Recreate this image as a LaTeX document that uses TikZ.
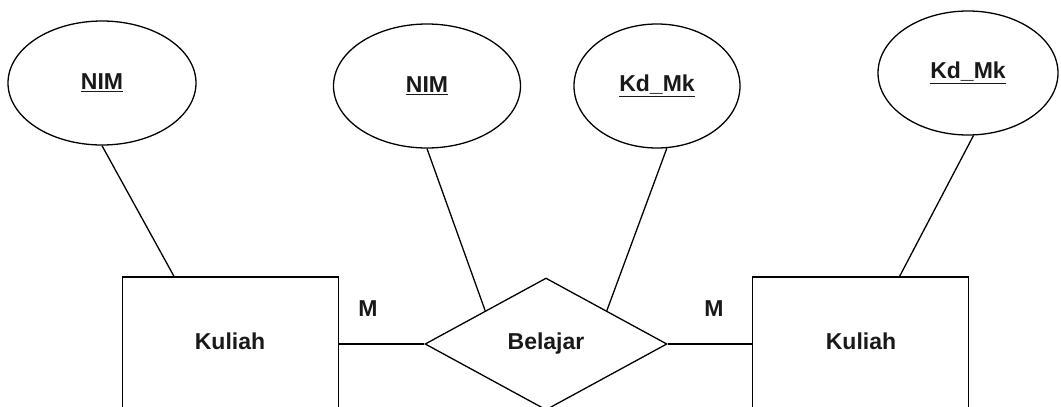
\documentclass[tikz,border=0pt]{standalone}
\usepackage{fontspec}
\setmainfont{Liberation Sans}
\usetikzlibrary{shapes.geometric,calc}
\begin{document}
\begin{tikzpicture}[x=1pt,y=-1pt,
  line width=1.3pt,
  lbl/.style={font=\fontsize{23}{27}\selectfont\bfseries, text=black!90},
  attr/.style={draw, ellipse, inner sep=0pt, lbl},
  entity/.style={draw, rectangle, inner sep=0pt, minimum width=216pt, minimum height=140pt},
  rel/.style={draw, diamond, inner sep=0pt, minimum width=242pt, minimum height=132pt, lbl},
  card/.style={lbl}]
\useasboundingbox (0,0) rectangle (1061,407);
% attributes
\node[attr, minimum width=188pt, minimum height=124pt] (e1) at (102,83) {\underline{NIM}};
\node[attr, minimum width=187pt, minimum height=124pt] (e2) at (427,86) {\underline{NIM}};
\node[attr, minimum width=166pt, minimum height=124pt] (e3) at (657,86) {\underline{Kd\_Mk}};
\node[attr, minimum width=180pt, minimum height=124pt] (e4) at (968,73) {\underline{Kd\_Mk}};
% entities
\node[entity] (k1) at (230.5,347) {};
\node[lbl] (k1t) at (230,341) {Kuliah};
\node[entity] (k2) at (860.5,347) {};
\node[lbl] (k2t) at (861,341) {Kuliah};
% relationship
\node[rel] (d) at (546,344) {Belajar};
% cardinalities
\node[card] (m1) at (368,309) {M};
\node[card] (m2) at (714,309) {M};
% connectors
\draw (e1.south) -- ($(k1.north west)!0.24!(k1.north east)$);
\draw (e2.south) -- ($(d.west)!0.5!(d.north)$);
\draw (e3.-81) -- ($(d.north)!0.5!(d.east)$);
\draw (e4.-85) -- ($(k2.north west)!0.68!(k2.north east)$);
\draw (k1.east |- d.west) -- (d.west);
\draw (d.east) -- (k2.west |- d.east);
\end{tikzpicture}
\end{document}
